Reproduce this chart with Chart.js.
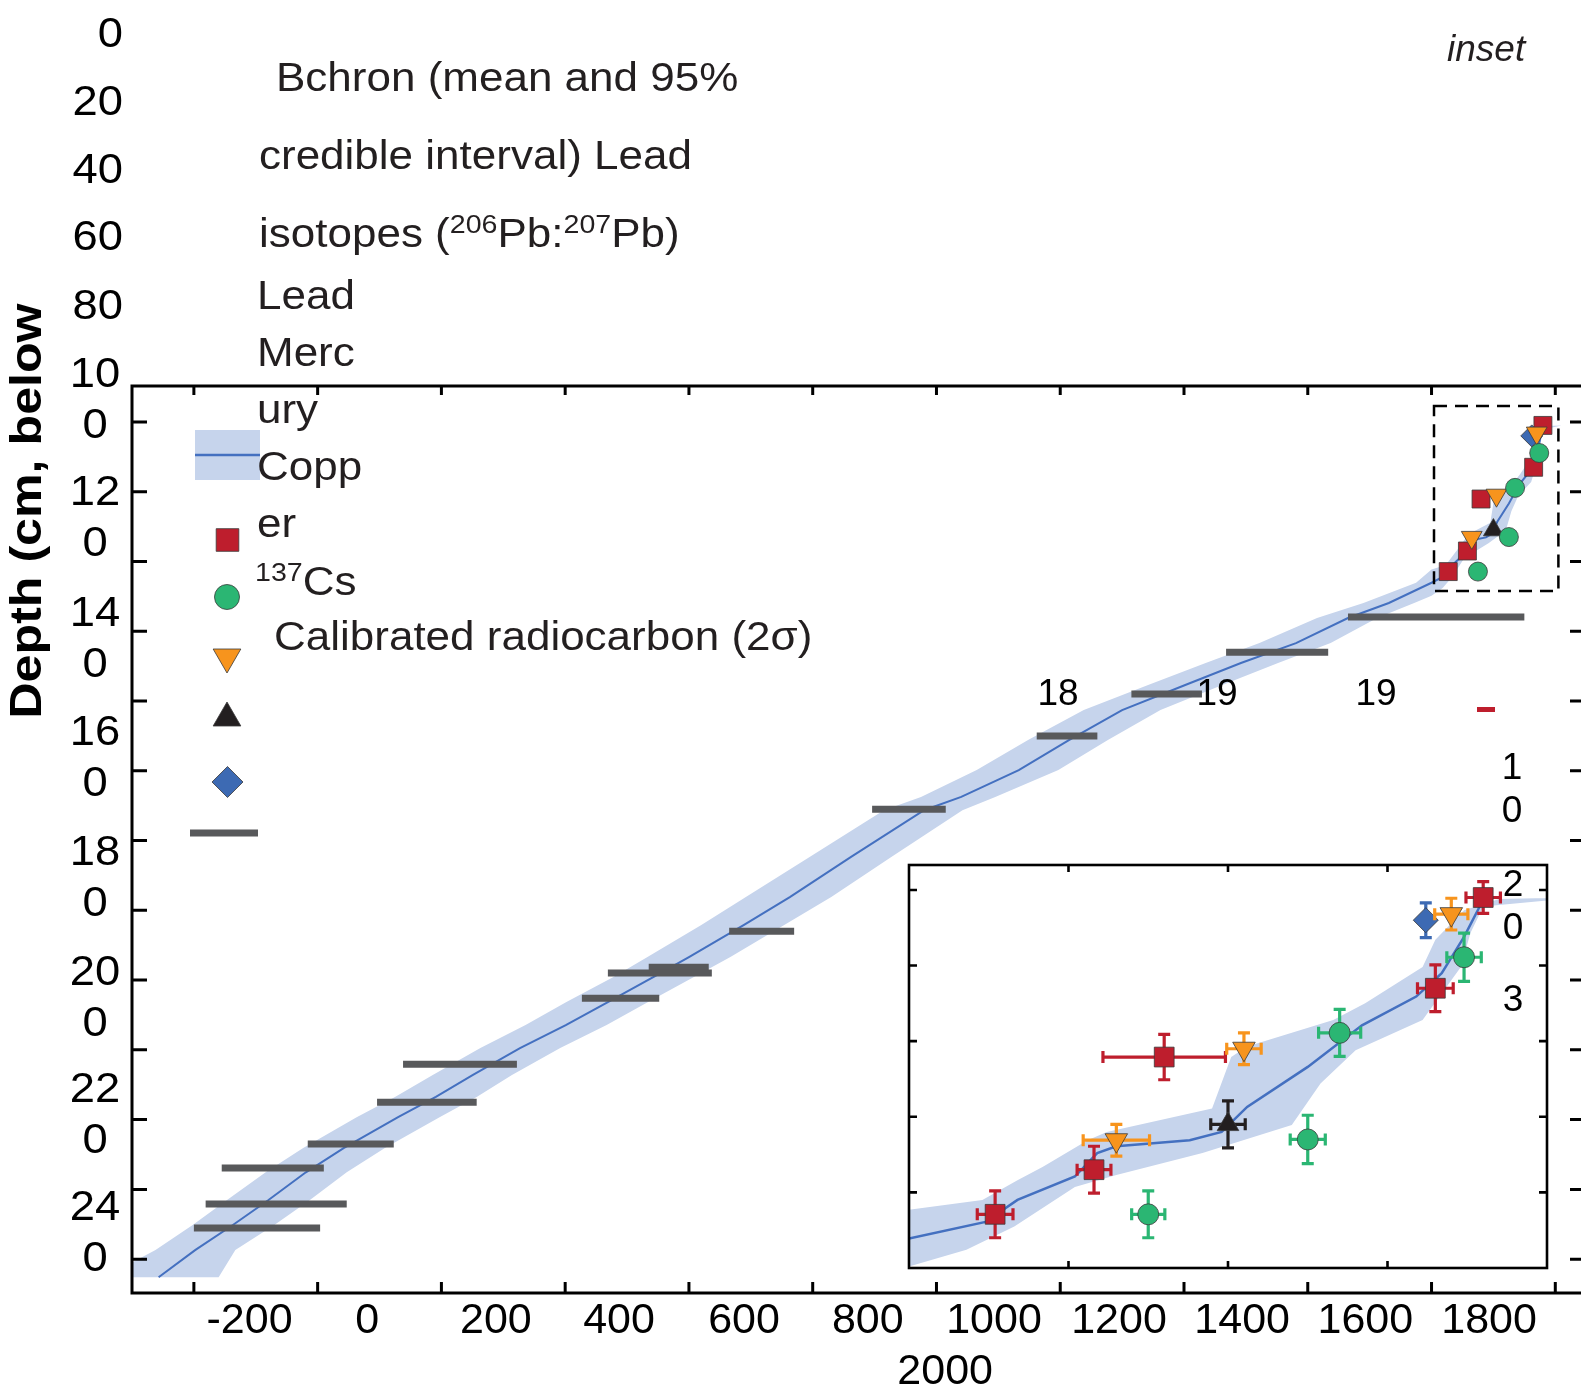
<!DOCTYPE html>
<html>
<head>
<meta charset="utf-8">
<script src="https://cdn.jsdelivr.net/npm/chart.js@4.4.1/dist/chart.umd.min.js"></script>
<style>
  html, body { margin: 0; padding: 0; background: #fff; overflow: hidden; }
  #wrap { position: relative; width: 1581px; height: 1394px; overflow: hidden; }
  #main { position: absolute; left: 0; top: 0; z-index: 2; }
  #inset { position: absolute; left: 903px; top: 859px; z-index: 1; }
</style>
</head>
<body>
<div id="wrap">
  <canvas id="inset" width="650" height="415"></canvas>
  <canvas id="main" width="1600" height="1394"></canvas>
</div>
<script>
// Bchron age-depth model, mean (age AD vs depth cm)
const meanDepth = [1.3, 6.2, 11.0, 14.1, 17.9, 23.4, 28.7, 32.0, 33.1, 33.9, 34.8, 37.9, 41.0, 43.9, 46.1,
  51.9, 56.2, 63.4, 69.1, 75.4, 82.6, 91.2, 99.8, 107.5, 111.3, 124.7, 136.2, 144.2, 153.4, 159.1,
  166.3, 172.9, 179.5, 187.2, 193.5, 199.3, 208.2, 215.1, 223.1, 230.2, 237.4, 245.2];
const meanAge = [1980, 1974, 1967, 1959, 1942, 1925, 1906, 1898, 1888, 1865, 1859, 1852, 1834, 1824, 1800,
  1731, 1665, 1581, 1492, 1402, 1300, 1214, 1133, 1040, 980, 862, 763, 689, 600, 543,
  469, 401, 327, 251, 191, 130, 42, -19, -80, -137, -198, -257];

// 95% credible interval, older edge (top to bottom)
const bandOldAge = [2010, 1985, 1974, 1965, 1961, 1943, 1933, 1906, 1901, 1895, 1862, 1856, 1842, 1834, 1823, 1800,
  1775, 1690, 1615, 1522, 1435, 1342, 1238, 1148, 1065, 975, 915, 795, 692, 620, 533, 478,
  402, 336, 263, 186, 125, 63, -24, -84, -147, -202, -262, -345];
const bandOldDepth = [1.0, 1.2, 2.7, 6.6, 10.2, 15.0, 17.2, 20.7, 22.1, 28.9, 32.0, 33.1, 36.6, 38.4, 41.0, 42.3,
  46.1, 51.9, 56.2, 63.4, 69.1, 75.4, 82.6, 91.2, 99.8, 107.5, 111.3, 124.7, 136.2, 144.2, 153.4, 159.1,
  166.3, 172.9, 179.5, 187.2, 193.5, 199.3, 208.2, 215.1, 223.1, 230.2, 237.4, 245.2];
// younger edge (top to bottom)
const bandYoungAge = [2010, 1980, 1976, 1973, 1961, 1940, 1929, 1920, 1892, 1865, 1852, 1833, 1818, 1800,
  1772, 1712, 1637, 1552, 1462, 1362, 1277, 1197, 1095, 1042, 927, 830, 754, 667, 608, 534,
  467, 392, 314, 257, 197, 108, 47, -13, -70, -133, -160];
const bandYoungDepth = [1.0, 2.2, 5.7, 10.2, 17.2, 21.2, 25.6, 31.1, 34.8, 37.7, 39.3, 44.5, 47.6, 49.8,
  51.9, 56.2, 63.4, 69.1, 75.4, 82.6, 91.2, 99.8, 107.5, 111.3, 124.7, 136.2, 144.2, 153.4, 159.1, 166.3,
  172.9, 179.5, 187.2, 193.5, 199.3, 208.2, 215.1, 223.1, 230.2, 237.4, 245.2];

// dated horizons: [age, depth, age error, depth error]
const leadIsotopes = [[1827, 42.9, 5.6, 3.1], [1858, 37.0, 5.3, 3.1], [1880, 22.1, 19.2, 3.0], [1965, 13.0, 5.6, 3.1], [1980, 1.0, 5.4, 2.1]];
const lead = [[1875, 42.9, 5.2, 3.1], [1925, 33.0, 5.5, 3.2], [1935, 18.9, 6.6, 3.1], [1974, 8.9, 5.4, 3.2]];
const mercury = [[1865, 33.1, 10.4, 2.1], [1905, 21.0, 5.4, 2.1], [1970, 3.2, 5.2, 2.1]];
const copper = [[1900, 31.0, 5.4, 3.1]];
const cs137 = [[1962, 4.0, 0, 2.3]];

// calibrated radiocarbon ranges: [from, to, depth]
const radiocarbon = [[-200, 4, 231.1], [-181, 47, 224.2], [-155, 10, 213.9], [-16, 123, 207.0], [96, 257, 195.0],
  [138, 322, 184.1], [427, 552, 165.2], [469, 637, 158.0], [535, 632, 156.3], [665, 770, 146.0],
  [896, 1015, 111.0], [1162, 1260, 90.0], [1315, 1429, 78.0], [1468, 1633, 66.0], [1665, 1950, 55.9]];

// axes
const xTicks = [-200, 0, 200, 400, 600, 800, 1000, 1200, 1400, 1600, 1800, 2000];
const xTickLabels = ['-200', '0', '200', '400', '600', '800', '1000', '1200', '1400', '1600', '1800', '2000'];
const xLabelAt = [-110, 80, 288, 487, 689, 889, 1093, 1295, 1494, 1693, 1893, 1014];
const xLabelRow = [0, 0, 0, 0, 0, 0, 0, 0, 0, 0, 0, 1];
const yTicks = [0, 20, 40, 60, 80, 100, 120, 140, 160, 180, 200, 220, 240];
const yTickLabels = ['0', '20', '40', '60', '80', '100', '120', '140', '160', '180', '200', '220', '240'];
const yLabelAt = [-110.9, -91.2, -71.9, -52.5, -32.8, -13.2, 20.4, 55.1, 89.2, 123.6, 158.0, 191.5, 225.4];
const insetXTicks = [1850, 1900, 1950];
const insetYTicks = [0, 10, 20, 30, 40];
const insetWindow = [1804, 2005, -4.6, 48.5];

const FONT = "'Liberation Sans', Arial, Helvetica, sans-serif";
const RED = '#be1e2d', GREEN = '#2bb673', ORANGE = '#f7941d', BLACK = '#231f20', BLUE = '#3d6ab3';
const BAND = '#c6d4ec', LINE = '#4470c0', BAR = '#58595b';

const SERIES = [
    { rows: cs137, color: BLUE, style: 'rectRot', rot: 0, r: [11, 12.5] },
    { rows: leadIsotopes, color: RED, style: 'rect', rot: 0, r: [12.7, 14] },
    { rows: mercury, color: ORANGE, style: 'triangle', rot: 180, r: [12, 13] },
    { rows: copper, color: BLACK, style: 'triangle', rot: 0, r: [11.5, 12.5] },
    { rows: lead, color: GREEN, style: 'circle', rot: 0, r: [9.5, 10.5] },
];

const bandPolygon = bandOldAge.map((a, i) => ({ x: a, y: bandOldDepth[i] }))
    .concat(bandYoungAge.map((a, i) => ({ x: a, y: bandYoungDepth[i] })).reverse());

function buildDatasets(inset) {
    const k = inset ? 1 : 0;
    const sets = [];
    sets.push({ type: 'line', data: bandPolygon, fill: 'shape', backgroundColor: BAND,
        borderWidth: 0, pointRadius: 0, tension: 0, order: 30 });
    sets.push({ type: 'line', data: meanAge.map((a, i) => ({ x: a, y: meanDepth[i] })),
        borderColor: LINE, borderWidth: inset ? 2.5 : 2, pointRadius: 0, fill: false, order: 29 });
    radiocarbon.forEach(([from, to, d]) => sets.push({
        type: 'line', data: [{ x: from, y: d }, { x: to, y: d }], borderColor: BAR,
        borderWidth: 7, borderCapStyle: 'butt', pointRadius: 0, fill: false, order: 20 }));
    SERIES.forEach((s, i) => sets.push({
        type: 'scatter', data: s.rows.map(r => ({ x: r[0], y: r[1] })),
        errs: inset ? s.rows : null, errColor: s.color,
        pointStyle: s.style, pointRotation: s.rot, pointRadius: s.r[k],
        pointBackgroundColor: s.color, pointBorderColor: '#3a3a3a', pointBorderWidth: 0.8,
        order: 10 - i }));
    return sets;
}

function marker(ctx, style, x, y, r, color, rot) {
    ctx.save();
    ctx.translate(x, y);
    ctx.rotate(rot * Math.PI / 180);
    ctx.beginPath();
    if (style === 'rect') { const s = r * Math.SQRT1_2; ctx.rect(-s, -s, 2 * s, 2 * s); }
    else if (style === 'circle') ctx.arc(0, 0, r, 0, 2 * Math.PI);
    else if (style === 'triangle') { ctx.moveTo(0, -r); ctx.lineTo(r * 0.866, r / 2); ctx.lineTo(-r * 0.866, r / 2); ctx.closePath(); }
    else { ctx.moveTo(0, -r); ctx.lineTo(r, 0); ctx.lineTo(0, r); ctx.lineTo(-r, 0); ctx.closePath(); }
    ctx.fillStyle = color;
    ctx.fill();
    ctx.lineWidth = 0.8;
    ctx.strokeStyle = '#3a3a3a';
    ctx.stroke();
    ctx.restore();
}

// text with superscript runs (plain strings or ['sup', text]), stretched sideways by sx
function drawRuns(ctx, x, y, runs, size, sx) {
    ctx.save();
    ctx.translate(x, y);
    ctx.scale(sx, 1);
    let cx = 0;
    runs.forEach(run => {
        if (Array.isArray(run)) {
            ctx.font = Math.round(size * 0.64) + 'px ' + FONT;
            ctx.fillText(run[1], cx, -size * 0.34);
            cx += ctx.measureText(run[1]).width;
        } else {
            ctx.font = size + 'px ' + FONT;
            ctx.fillText(run, cx, 0);
            cx += ctx.measureText(run).width;
        }
    });
    ctx.restore();
}

function stretchedText(ctx, str, x, y, sx) {
    ctx.save();
    ctx.translate(x, y);
    ctx.scale(sx, 1);
    ctx.fillText(str, 0, 0);
    ctx.restore();
}

const legendLines = [
    [276, 91, ['Bchron (mean and 95%']],
    [259, 169, ['credible interval) Lead']],
    [259, 247, ['isotopes (', ['sup', '206'], 'Pb:', ['sup', '207'], 'Pb)']],
    [257, 309, ['Lead']],
    [257, 366, ['Merc']],
    [257, 423, ['ury']],
    [257, 480, ['Copp']],
    [257, 537, ['er']],
    [255, 595, [['sup', '137'], 'Cs']],
    [274, 650, ['Calibrated radiocarbon (2σ)']],
];

const strayLabels = [
    ['18', 1058, 705], ['19', 1217, 705], ['19', 1376, 705],
    ['1', 1512, 779], ['0', 1512, 822], ['2', 1513, 896], ['0', 1513, 939], ['3', 1513, 1011],
];

const mainDecor = {
    id: 'mainDecor',
    afterDraw(chart) {
        const { ctx, chartArea: a, scales: { x, y } } = chart;
        ctx.save();
        ctx.strokeStyle = '#000';
        ctx.lineWidth = 3;
        ctx.strokeRect(a.left, a.top, a.right - a.left, a.bottom - a.top);
        ctx.beginPath();
        xTicks.forEach(v => {
            const px = x.getPixelForValue(v);
            ctx.moveTo(px, a.bottom); ctx.lineTo(px, a.bottom - 11);
            ctx.moveTo(px, a.top); ctx.lineTo(px, a.top + 9);
        });
        yTicks.forEach(v => {
            const py = y.getPixelForValue(v);
            ctx.moveTo(a.left, py); ctx.lineTo(a.left + 15, py);
            ctx.moveTo(a.right, py); ctx.lineTo(a.right - 15, py);
        });
        ctx.stroke();

        // dashed window of the inset
        ctx.lineWidth = 2.5;
        ctx.setLineDash([13, 8]);
        const wx0 = x.getPixelForValue(insetWindow[0]), wx1 = x.getPixelForValue(insetWindow[1]);
        const wy0 = y.getPixelForValue(insetWindow[2]), wy1 = y.getPixelForValue(insetWindow[3]);
        ctx.strokeRect(wx0, wy0, wx1 - wx0, wy1 - wy0);
        ctx.setLineDash([]);

        // tick labels
        ctx.fillStyle = '#000';
        ctx.textBaseline = 'middle';
        ctx.font = '43px ' + FONT;
        ctx.textAlign = 'center';
        xTickLabels.forEach((t, i) => {
            ctx.fillText(t, x.getPixelForValue(xLabelAt[i]), xLabelRow[i] ? 1372 : 1321);
        });
        ctx.font = '42px ' + FONT;
        yTickLabels.forEach((t, i) => {
            const py = y.getPixelForValue(yLabelAt[i]);
            if (t.length < 3) {
                ctx.textAlign = 'right';
                stretchedText(ctx, t, 123, py, 1.08);
            } else {
                ctx.textAlign = 'center';
                stretchedText(ctx, t.slice(0, 2), 95, py, 1.08);
                stretchedText(ctx, t.slice(2), 95, py + 51, 1.08);
            }
        });

        // axis title
        ctx.save();
        ctx.translate(41, 511);
        ctx.rotate(-Math.PI / 2);
        ctx.scale(1.14, 1);
        ctx.textAlign = 'center';
        ctx.textBaseline = 'alphabetic';
        ctx.font = 'bold 44px ' + FONT;
        ctx.fillText('Depth (cm, below', 0, 0);
        ctx.restore();

        // legend
        ctx.fillStyle = BAND;
        ctx.fillRect(195, 430, 65, 50);
        ctx.strokeStyle = LINE;
        ctx.lineWidth = 2.5;
        ctx.beginPath(); ctx.moveTo(195, 455); ctx.lineTo(260, 455); ctx.stroke();
        marker(ctx, 'rect', 227.5, 540, 16, RED, 0);
        marker(ctx, 'circle', 227, 597, 12.5, GREEN, 0);
        marker(ctx, 'triangle', 227, 657, 16, ORANGE, 180);
        marker(ctx, 'triangle', 227, 718, 16, BLACK, 0);
        marker(ctx, 'rectRot', 227.5, 782, 15.5, BLUE, 0);
        ctx.fillStyle = BAR;
        ctx.fillRect(190, 829.5, 68, 7);

        ctx.fillStyle = '#231f20';
        ctx.textAlign = 'left';
        ctx.textBaseline = 'alphabetic';
        legendLines.forEach(([lx, ly, runs]) => drawRuns(ctx, lx, ly, runs, 40, 1.1));

        ctx.font = 'italic 37px ' + FONT;
        ctx.fillText('inset', 1447, 61);

        ctx.fillStyle = '#000';
        ctx.font = '37px ' + FONT;
        ctx.textAlign = 'center';
        strayLabels.forEach(([t, sx, sy]) => ctx.fillText(t, sx, sy));
        ctx.fillStyle = RED;
        ctx.fillRect(1477, 707, 18, 5);
        ctx.restore();
    }
};

const errorBars = {
    id: 'errorBars',
    beforeDatasetDraw(chart, args) {
        const ds = chart.data.datasets[args.index];
        if (!ds.errs) return;
        const { ctx, scales: { x, y } } = chart;
        const cap = 6;
        ctx.save();
        ctx.strokeStyle = ds.errColor;
        ctx.lineWidth = 3.2;
        ds.errs.forEach(([a, d, ea, ed]) => {
            const px = x.getPixelForValue(a), py = y.getPixelForValue(d);
            ctx.beginPath();
            if (ea) {
                const l = x.getPixelForValue(a - ea), r = x.getPixelForValue(a + ea);
                ctx.moveTo(l, py); ctx.lineTo(r, py);
                ctx.moveTo(l, py - cap); ctx.lineTo(l, py + cap);
                ctx.moveTo(r, py - cap); ctx.lineTo(r, py + cap);
            }
            if (ed) {
                const t = y.getPixelForValue(d - ed), b = y.getPixelForValue(d + ed);
                ctx.moveTo(px, t); ctx.lineTo(px, b);
                ctx.moveTo(px - cap, t); ctx.lineTo(px + cap, t);
                ctx.moveTo(px - cap, b); ctx.lineTo(px + cap, b);
            }
            ctx.stroke();
        });
        ctx.restore();
    }
};

const insetFrame = {
    id: 'insetFrame',
    beforeDraw(chart) {
        const { ctx, chartArea: a } = chart;
        ctx.save();
        ctx.fillStyle = '#fff';
        ctx.fillRect(a.left, a.top, a.right - a.left, a.bottom - a.top);
        ctx.restore();
    },
    afterDraw(chart) {
        const { ctx, chartArea: a, scales: { x, y } } = chart;
        ctx.save();
        ctx.strokeStyle = '#000';
        ctx.lineWidth = 2.6;
        ctx.strokeRect(a.left, a.top, a.right - a.left, a.bottom - a.top);
        ctx.beginPath();
        insetXTicks.forEach(v => {
            const px = x.getPixelForValue(v);
            ctx.moveTo(px, a.top); ctx.lineTo(px, a.top + 7);
            ctx.moveTo(px, a.bottom); ctx.lineTo(px, a.bottom - 7);
        });
        insetYTicks.forEach(v => {
            const py = y.getPixelForValue(v);
            ctx.moveTo(a.left, py); ctx.lineTo(a.left + 8, py);
            ctx.moveTo(a.right, py); ctx.lineTo(a.right - 8, py);
        });
        ctx.stroke();
        ctx.restore();
    }
};

const common = {
    responsive: false,
    animation: false,
    events: [],
    plugins: { legend: { display: false }, tooltip: { enabled: false } },
};

new Chart(document.getElementById('main'), {
    type: 'scatter',
    data: { datasets: buildDatasets(false) },
    options: Object.assign({}, common, {
        layout: { autoPadding: false, padding: { left: 132, top: 386, right: 15, bottom: 101 } },
        scales: {
            x: { type: 'linear', min: -300, max: 2048, display: false },
            y: { type: 'linear', min: -10.3, max: 249.7, reverse: true, display: false }
        }
    }),
    plugins: [mainDecor]
});

new Chart(document.getElementById('inset'), {
    type: 'scatter',
    data: { datasets: buildDatasets(true) },
    options: Object.assign({}, common, {
        layout: { autoPadding: false, padding: 6 },
        scales: {
            x: { type: 'linear', min: 1800, max: 2000, display: false },
            y: { type: 'linear', min: -3.3, max: 50, reverse: true, display: false }
        }
    }),
    plugins: [insetFrame, errorBars]
});
</script>
</body>
</html>
